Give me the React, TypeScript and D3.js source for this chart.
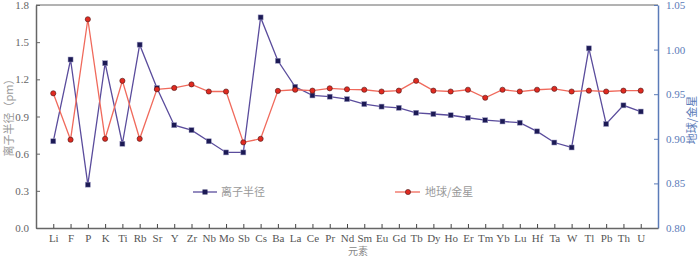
import React, { useEffect, useRef } from 'react'
import * as d3 from 'd3'

const elements = ['Li', 'F', 'P', 'K', 'Ti', 'Rb', 'Sr', 'Y', 'Zr', 'Nb', 'Mo', 'Sb', 'Cs', 'Ba', 'La', 'Ce', 'Pr', 'Nd', 'Sm', 'Eu', 'Gd', 'Tb', 'Dy', 'Ho', 'Er', 'Tm', 'Yb', 'Lu', 'Hf', 'Ta', 'W', 'Tl', 'Pb', 'Th', 'U']
const ionRadius = [0.70, 1.36, 0.35, 1.33, 0.68, 1.48, 1.13, 0.83, 0.79, 0.70, 0.61, 0.61, 1.70, 1.35, 1.14, 1.07, 1.06, 1.04, 1.00, 0.98, 0.97, 0.93, 0.92, 0.91, 0.89, 0.87, 0.86, 0.85, 0.78, 0.69, 0.65, 1.45, 0.84, 0.99, 0.94]
const earthVenus = [0.951, 0.899, 1.034, 0.900, 0.965, 0.900, 0.9555, 0.957, 0.961, 0.953, 0.953, 0.896, 0.900, 0.9537, 0.955, 0.954, 0.9566, 0.9555, 0.955, 0.953, 0.954, 0.965, 0.954, 0.953, 0.955, 0.946, 0.955, 0.953, 0.955, 0.956, 0.953, 0.954, 0.953, 0.954, 0.954]
const leftTicks = [0, 0.3, 0.6, 0.9, 1.2, 1.5, 1.8]
const rightTicks = [0.80, 0.85, 0.90, 0.95, 1.00, 1.05]

const W = 700, H = 258
const left = 36, right = 658, top = 5, bottom = 228
const serif = '"Liberation Serif", "DejaVu Serif", serif'
const cjk = '"Noto Sans CJK SC", sans-serif'
const blueLine = '#5a4c9c'
const redLine = '#f06a5c'
const axisBlue = '#5b7bb8'

export default function App() {
  const ref = useRef<SVGSVGElement>(null)

  useEffect(() => {
    const svg = d3.select(ref.current)
    svg.selectAll('*').remove()

    const x = d3.scalePoint().domain(elements).range([left, right]).padding(1)
    const yL = d3.scaleLinear().domain([0, 1.8]).range([bottom, top])
    const yR = d3.scaleLinear().domain([0.80, 1.05]).range([bottom, top])

    // frame
    svg.append('line').attr('x1', left).attr('x2', right).attr('y1', top).attr('y2', top)
      .attr('stroke', '#666').attr('stroke-width', 1)

    // left axis
    const gl = svg.append('g').attr('transform', `translate(${left},0)`)
      .call(d3.axisLeft(yL).tickValues(leftTicks).tickFormat(d3.format('.1f')).tickSizeInner(-4).tickSizeOuter(0).tickPadding(7))
    gl.select('.domain').attr('stroke', '#666').attr('stroke-width', 1.5)
    gl.selectAll('.tick line').attr('stroke', '#666')
    gl.selectAll('.tick text').attr('font-family', serif).attr('font-size', 11).attr('fill', '#666')

    // right axis
    const gr = svg.append('g').attr('transform', `translate(${right},0)`)
      .call(d3.axisRight(yR).tickValues(rightTicks).tickFormat(d3.format('.2f')).tickSizeInner(-4).tickSizeOuter(0).tickPadding(8))
    gr.select('.domain').attr('stroke', axisBlue).attr('stroke-width', 1.5)
    gr.selectAll('.tick line').attr('stroke', axisBlue)
    gr.selectAll('.tick text').attr('font-family', serif).attr('font-size', 11).attr('fill', axisBlue)

    // bottom axis
    const gb = svg.append('g').attr('transform', `translate(0,${bottom})`)
      .call(d3.axisBottom(x).tickSizeInner(-4).tickSizeOuter(0).tickPadding(6))
    gb.select('.domain').attr('stroke', '#666').attr('stroke-width', 1.5)
    gb.selectAll('.tick line').attr('stroke', '#444')
    gb.selectAll('.tick text').attr('font-family', serif).attr('font-size', 11).attr('fill', '#555')

    // axis titles
    svg.append('text').attr('transform', `translate(13,115) rotate(-90)`).attr('text-anchor', 'middle')
      .attr('font-family', cjk).attr('font-size', 11).attr('fill', '#999').text('离子半径（pm）')
    svg.append('text').attr('transform', `translate(696,120) rotate(-90)`).attr('text-anchor', 'middle')
      .attr('font-family', cjk).attr('font-size', 11).attr('fill', axisBlue).text('地球/金星')
    svg.append('text').attr('x', 358).attr('y', 254.5).attr('text-anchor', 'middle')
      .attr('font-family', cjk).attr('font-size', 10).attr('fill', '#888').text('元素')

    // ionic radius series
    const lineL = d3.line<number>().x((_, i) => x(elements[i])!).y(d => yL(d))
    svg.append('path').datum(ionRadius).attr('d', lineL).attr('fill', 'none')
      .attr('stroke', blueLine).attr('stroke-width', 1.3)
    svg.selectAll('rect.pt').data(ionRadius).enter().append('rect')
      .attr('x', (_, i) => x(elements[i])! - 2.5).attr('y', d => yL(d) - 2.5)
      .attr('width', 5).attr('height', 5).attr('fill', '#1c1a55').attr('stroke', '#9a98c0').attr('stroke-width', 0.5)

    // earth / venus series
    const lineR = d3.line<number>().x((_, i) => x(elements[i])!).y(d => yR(d))
    svg.append('path').datum(earthVenus).attr('d', lineR).attr('fill', 'none')
      .attr('stroke', redLine).attr('stroke-width', 1.3)
    svg.selectAll('circle.pt').data(earthVenus).enter().append('circle')
      .attr('cx', (_, i) => x(elements[i])!).attr('cy', d => yR(d))
      .attr('r', 2.6).attr('fill', '#e02a20').attr('stroke', '#4a1a1a').attr('stroke-width', 0.6)

    // legend
    const ly = 192
    svg.append('line').attr('x1', 193).attr('x2', 217).attr('y1', ly).attr('y2', ly).attr('stroke', blueLine).attr('stroke-width', 1.3)
    svg.append('rect').attr('x', 202.5).attr('y', ly - 2.5).attr('width', 5).attr('height', 5).attr('fill', '#1c1a55')
    svg.append('text').attr('x', 221).attr('y', ly + 4).attr('font-family', cjk).attr('font-size', 11).attr('fill', '#999').text('离子半径')
    svg.append('line').attr('x1', 395).attr('x2', 420).attr('y1', ly).attr('y2', ly).attr('stroke', redLine).attr('stroke-width', 1.3)
    svg.append('circle').attr('cx', 408).attr('cy', ly).attr('r', 2.6).attr('fill', '#e02a20').attr('stroke', '#4a1a1a').attr('stroke-width', 0.6)
    svg.append('text').attr('x', 425).attr('y', ly + 4).attr('font-family', cjk).attr('font-size', 11).attr('fill', '#999').text('地球/金星')
  }, [])

  return (
    <svg ref={ref} width={W} height={H} style={{ position: 'absolute', left: 0, top: 0, background: '#fff' }} />
  )
}
